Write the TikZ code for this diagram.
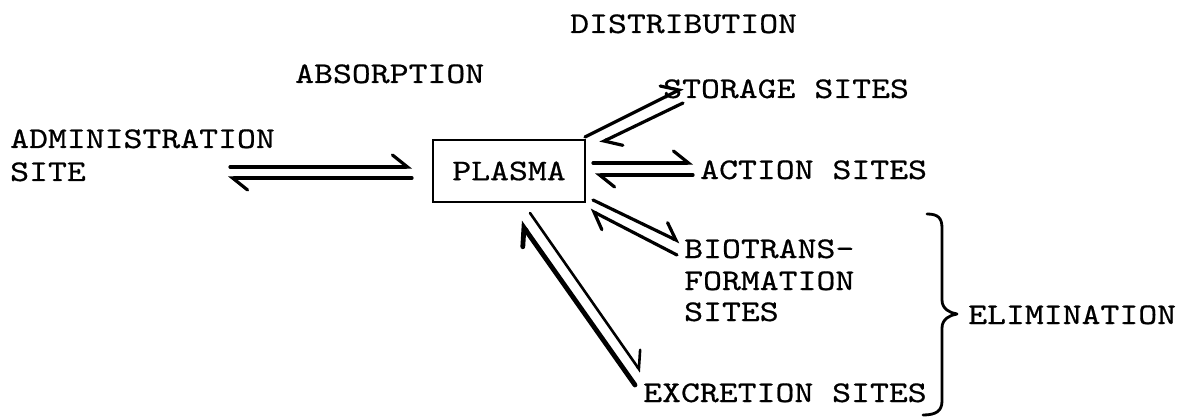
\documentclass[tikz,border=0pt]{standalone}
\usepackage{fontspec}
\newfontfamily\tw{lmmono10-regular.otf}[FakeStretch=1.2,FakeBold=0.6]
\usetikzlibrary{arrows.meta}
\tikzset{
  lbl/.style={anchor=base west, inner sep=0pt, font=\tw\fontsize{30}{36}\selectfont},
  hp/.style={line width=3.2pt, line cap=round, -{Straight Barb[harpoon,length=15pt,width=24pt,line cap=round]}},
  hpthin/.style={hp, line width=2.6pt},
  hpthick/.style={hp, line width=4.8pt},
  boxst/.style={draw, line width=2.6pt, minimum width=152pt, minimum height=62pt, inner sep=0pt, font=\tw\fontsize{30}{36}\selectfont},
  bracest/.style={line width=2.8pt, line cap=round, line join=round}
}
\begin{document}
\begin{tikzpicture}[x=1pt,y=1pt]
\useasboundingbox (0,0) rectangle (1181,-417);
% labels
\node[lbl] (dist) at (570,-33) {DISTRIBUTION};
\node[lbl] (abs) at (295,-83) {ABSORPTION};
\node[lbl] (stor) at (663,-98) {STORAGE SITES};
\node[lbl] (adm1) at (10,-148) {ADMINISTRATION};
\node[lbl] (adm2) at (10,-181) {SITE};
\node[boxst] (plasma) at (509,-171) {PLASMA};
\node[lbl] (act) at (700,-179) {ACTION SITES};
\node[lbl] (bio1) at (684,-258) {BIOTRANS-};
\node[lbl] (bio2) at (684,-290) {FORMATION};
\node[lbl] (bio3) at (684,-321) {SITES};
\node[lbl] (elim) at (968,-324) {ELIMINATION};
\node[lbl] (exc) at (643,-402) {EXCRETION SITES};
% arrow end points
\coordinate (a1) at (230,-167); \coordinate (a2) at (412,-167);
\coordinate (a3) at (412,-178); \coordinate (a4) at (228,-178);
\coordinate (s1) at (585,-137); \coordinate (s2) at (683,-88);
\coordinate (s3) at (683,-103); \coordinate (s4) at (600,-143);
\coordinate (c1) at (593,-163); \coordinate (c2) at (693,-163);
\coordinate (c3) at (693,-175); \coordinate (c4) at (595,-175);
\coordinate (b1) at (593,-200); \coordinate (b2) at (680,-242);
\coordinate (b3) at (677,-255); \coordinate (b4) at (590,-210);
\coordinate (e1) at (530,-213); \coordinate (e2) at (641,-372);
\coordinate (e3) at (635,-385); \coordinate (e4) at (520,-222);
% arrows
\draw[hp] (a1) -- (a2);
\draw[hp] (a3) -- (a4);
\draw[hp] (s1) -- (s2);
\draw[hp] (s3) -- (s4);
\draw[hp] (c1) -- (c2);
\draw[hp] (c3) -- (c4);
\draw[hp] (b1) -- (b2);
\draw[hp] (b3) -- (b4);
\draw[hpthin] (e1) -- (e2);
\draw[hpthick] (e3) -- (e4);
% brace
\coordinate (br1) at (927,-214);
\coordinate (brt) at (957,-314);
\coordinate (br2) at (923,-415);
\draw[bracest] (br1) .. controls (938,-214) and (942,-218) .. (942,-228) -- (942,-300)
  .. controls (942,-309) and (950,-313) .. (brt)
  .. controls (950,-315) and (942,-319) .. (942,-328) -- (942,-401)
  .. controls (942,-411) and (936,-415) .. (br2);
\end{tikzpicture}
\end{document}
